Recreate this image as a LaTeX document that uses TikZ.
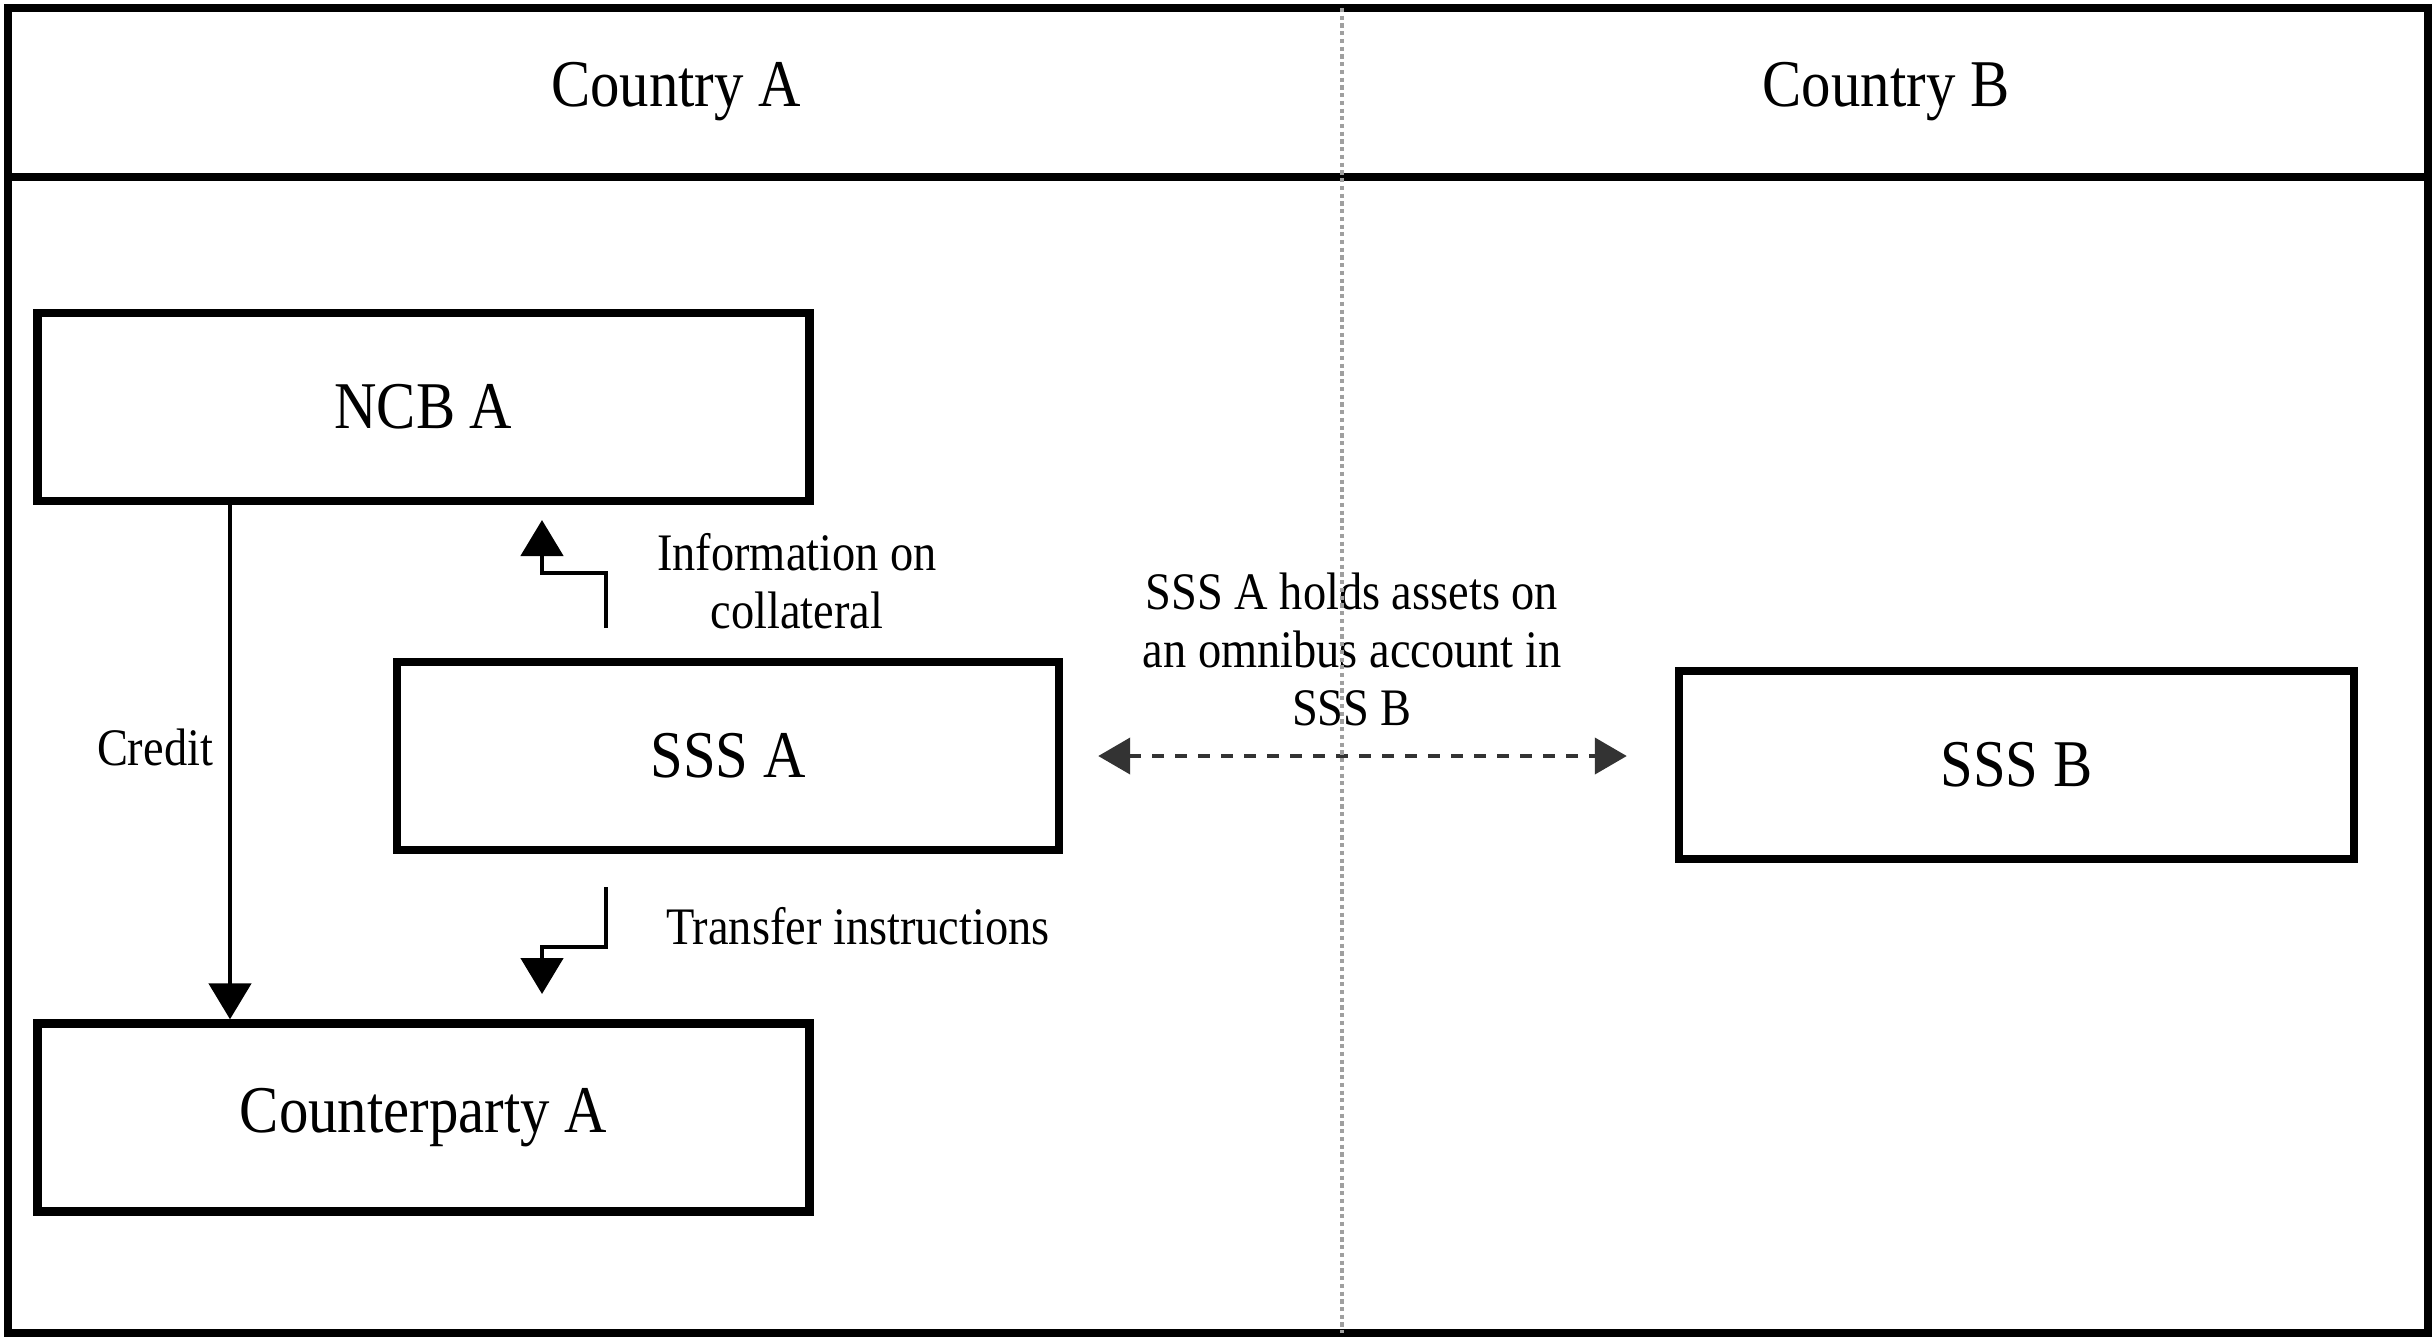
\documentclass[tikz,border=0pt]{standalone}
\usepackage{fontspec}
\setmainfont{Liberation Serif}[FakeStretch=0.88]
\usetikzlibrary{arrows.meta, calc}

\begin{document}
\begin{tikzpicture}[
    box/.style={draw, line width=2.4pt, minimum width=7.72cm, minimum height=1.88cm, inner sep=0pt, font=\fontsize{19}{22}\selectfont},
    frame/.style={line width=2.4pt},
    head/.style={font=\fontsize{19}{22}\selectfont},
    lbl/.style={font=\fontsize{15}{16.5}\selectfont, align=center, inner sep=1pt},
    arr/.style={-{Triangle[length=0.36cm, width=0.42cm]}, line width=1.4pt},
    dbl/.style={{Triangle[length=0.32cm, width=0.36cm]}-{Triangle[length=0.32cm, width=0.36cm]}, line width=1.2pt, dash pattern=on 0.12cm off 0.11cm, black!80},
    divider/.style={gray!75, line width=1.2pt, densely dotted},
]
\useasboundingbox (0,0) rectangle (24.36,-13.41);

% ── Frame and header ──
\coordinate (tl) at (0.08,-0.08);
\coordinate (br) at (24.28,-13.33);
\coordinate (hl) at (0.08,-1.77);
\coordinate (hr) at (24.28,-1.77);
\draw[frame] (tl) rectangle (br);
\draw[frame] (hl) -- (hr);
\node[head] (cA) at (6.76,-0.92) {Country A};
\node[head] (cB) at (18.86,-0.92) {Country B};

% ── Boxes ──
\node[box] (NCB) at (4.235,-4.07) {NCB A};
\node[box, minimum width=6.62cm] (SSSA) at (7.28,-7.56) {SSS A};
\node[box] (CPA) at (4.235,-11.175) {Counterparty A};
\node[box, minimum width=6.75cm] (SSSB) at (20.165,-7.65) {SSS B};

% ── Labels ──
\node[lbl] (credL) at (1.55,-7.47) {Credit};
\node[lbl] (infoL) at (7.97,-5.81) {Information on\\collateral};
\node[lbl] (transL) at (8.58,-9.26) {Transfer instructions};
\node[lbl] (omniL) at (13.52,-6.49) {SSS A holds assets on\\an omnibus account in\\SSS B};

% ── Arrows ──
\coordinate (credx) at (2.30,0);
\draw[arr] (NCB.south -| credx) -- (CPA.north -| credx);

\coordinate (infoS) at (6.06,-6.28);
\coordinate (infoE) at (5.42,-5.20);
\draw[arr] (infoS) -- ++(0,0.55) -| (infoE);

\coordinate (trS) at (6.06,-8.87);
\coordinate (trE) at (5.42,-9.94);
\draw[arr] (trS) -- ++(0,-0.60) -| (trE);

\draw[dbl, shorten <=0.35cm, shorten >=0.48cm] (SSSA.east) -- (SSSA.east -| SSSB.west);

% ── Country divider ──
\coordinate (divT) at (13.42,-0.08);
\coordinate (divB) at (13.42,-13.33);
\draw[divider] (divT) -- (divB);

\end{tikzpicture}
\end{document}
